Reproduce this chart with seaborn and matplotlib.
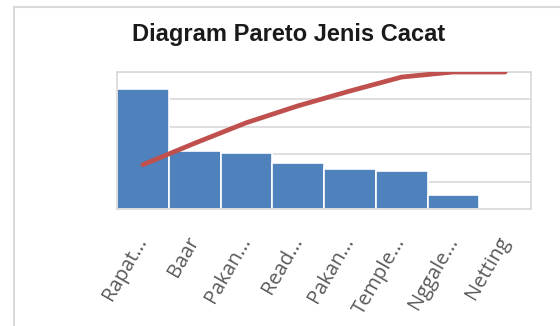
import numpy as np
import seaborn as sns
import matplotlib.pyplot as plt
from matplotlib.lines import Line2D

# data (arbitrary units, y axis has no labels)
codes = ["rapat", "baar", "pakan1", "read", "pakan2", "temple", "nggale", "netting"]
tick_labels = ["Rapat...", "Baar", "Pakan...", "Read...", "Pakan...", "Temple...", "Nggale...", "Netting"]
counts = [43.75, 21.2, 20.3, 16.7, 14.6, 13.8, 5.0, 0.0]

cum_pct = np.cumsum(counts) / np.sum(counts) * 100

sns.set_theme(style="white")
plt.rcParams['font.family'] = ['Liberation Sans', 'DejaVu Sans']

fig = plt.figure(figsize=(5.6, 3.26), dpi=100)
ax = fig.add_axes([117 / 560, 1 - 209 / 326, 414 / 560, 137 / 326])

grid_col = "#D9D9D9"
sns.barplot(x=codes, y=counts, color="#4F81BD", saturation=1, width=1.0,
            edgecolor="white", linewidth=1.2, ax=ax, zorder=2)
ax.set_xlim(-0.5, len(codes) - 0.5)
ax.set_ylim(0, 50)
ax.set_yticks(np.arange(0, 51, 10))
ax.yaxis.grid(True, color=grid_col, linewidth=1.2, zorder=0)
ax.set_axisbelow(True)
ax.set_xticks(range(len(codes)))
ax.set_xticklabels(tick_labels, rotation=60, ha="right", va="center", rotation_mode="anchor",
                   color="#595959", fontsize=14.5, family=["Open Sans", "DejaVu Sans"])
ax.set_xlabel("")
ax.set_ylabel("")
for s in ax.spines.values():
    s.set_color(grid_col)
    s.set_linewidth(1.2)

ax2 = ax.twinx()
sns.lineplot(x=list(range(len(codes))), y=cum_pct, color="#C0504D", linewidth=3.4,
             ax=ax2, solid_capstyle="round", zorder=3)
ax2.set_ylim(0, 100)
ax2.set_xlim(-0.5, len(codes) - 0.5)
ax2.tick_params(axis="y", right=False, labelright=False, left=False, labelleft=False)
ax2.set_ylabel("")
for s in ax2.spines.values():
    s.set_visible(False)

# twinx turns the left ticks back on, so switch them off afterwards
ax.tick_params(axis="y", left=False, labelleft=False, right=False, labelright=False)
ax.tick_params(axis="x", bottom=False, pad=15)

fig.text(289 / 560, 1 - 35 / 326, "Diagram Pareto Jenis Cacat", ha="center", va="center",
         fontsize=17, fontweight="bold", color="#1a1a1a")

# outer chart frame (only left and top edges are visible in the crop)
fig.add_artist(Line2D([13.5 / 560, 13.5 / 560], [0, 1 - 6.5 / 326], color=grid_col,
                      linewidth=1.5, transform=fig.transFigure))
fig.add_artist(Line2D([13.5 / 560, 1], [1 - 6.5 / 326, 1 - 6.5 / 326], color=grid_col,
                      linewidth=1.5, transform=fig.transFigure))

fig.savefig("out.png", dpi=100)
